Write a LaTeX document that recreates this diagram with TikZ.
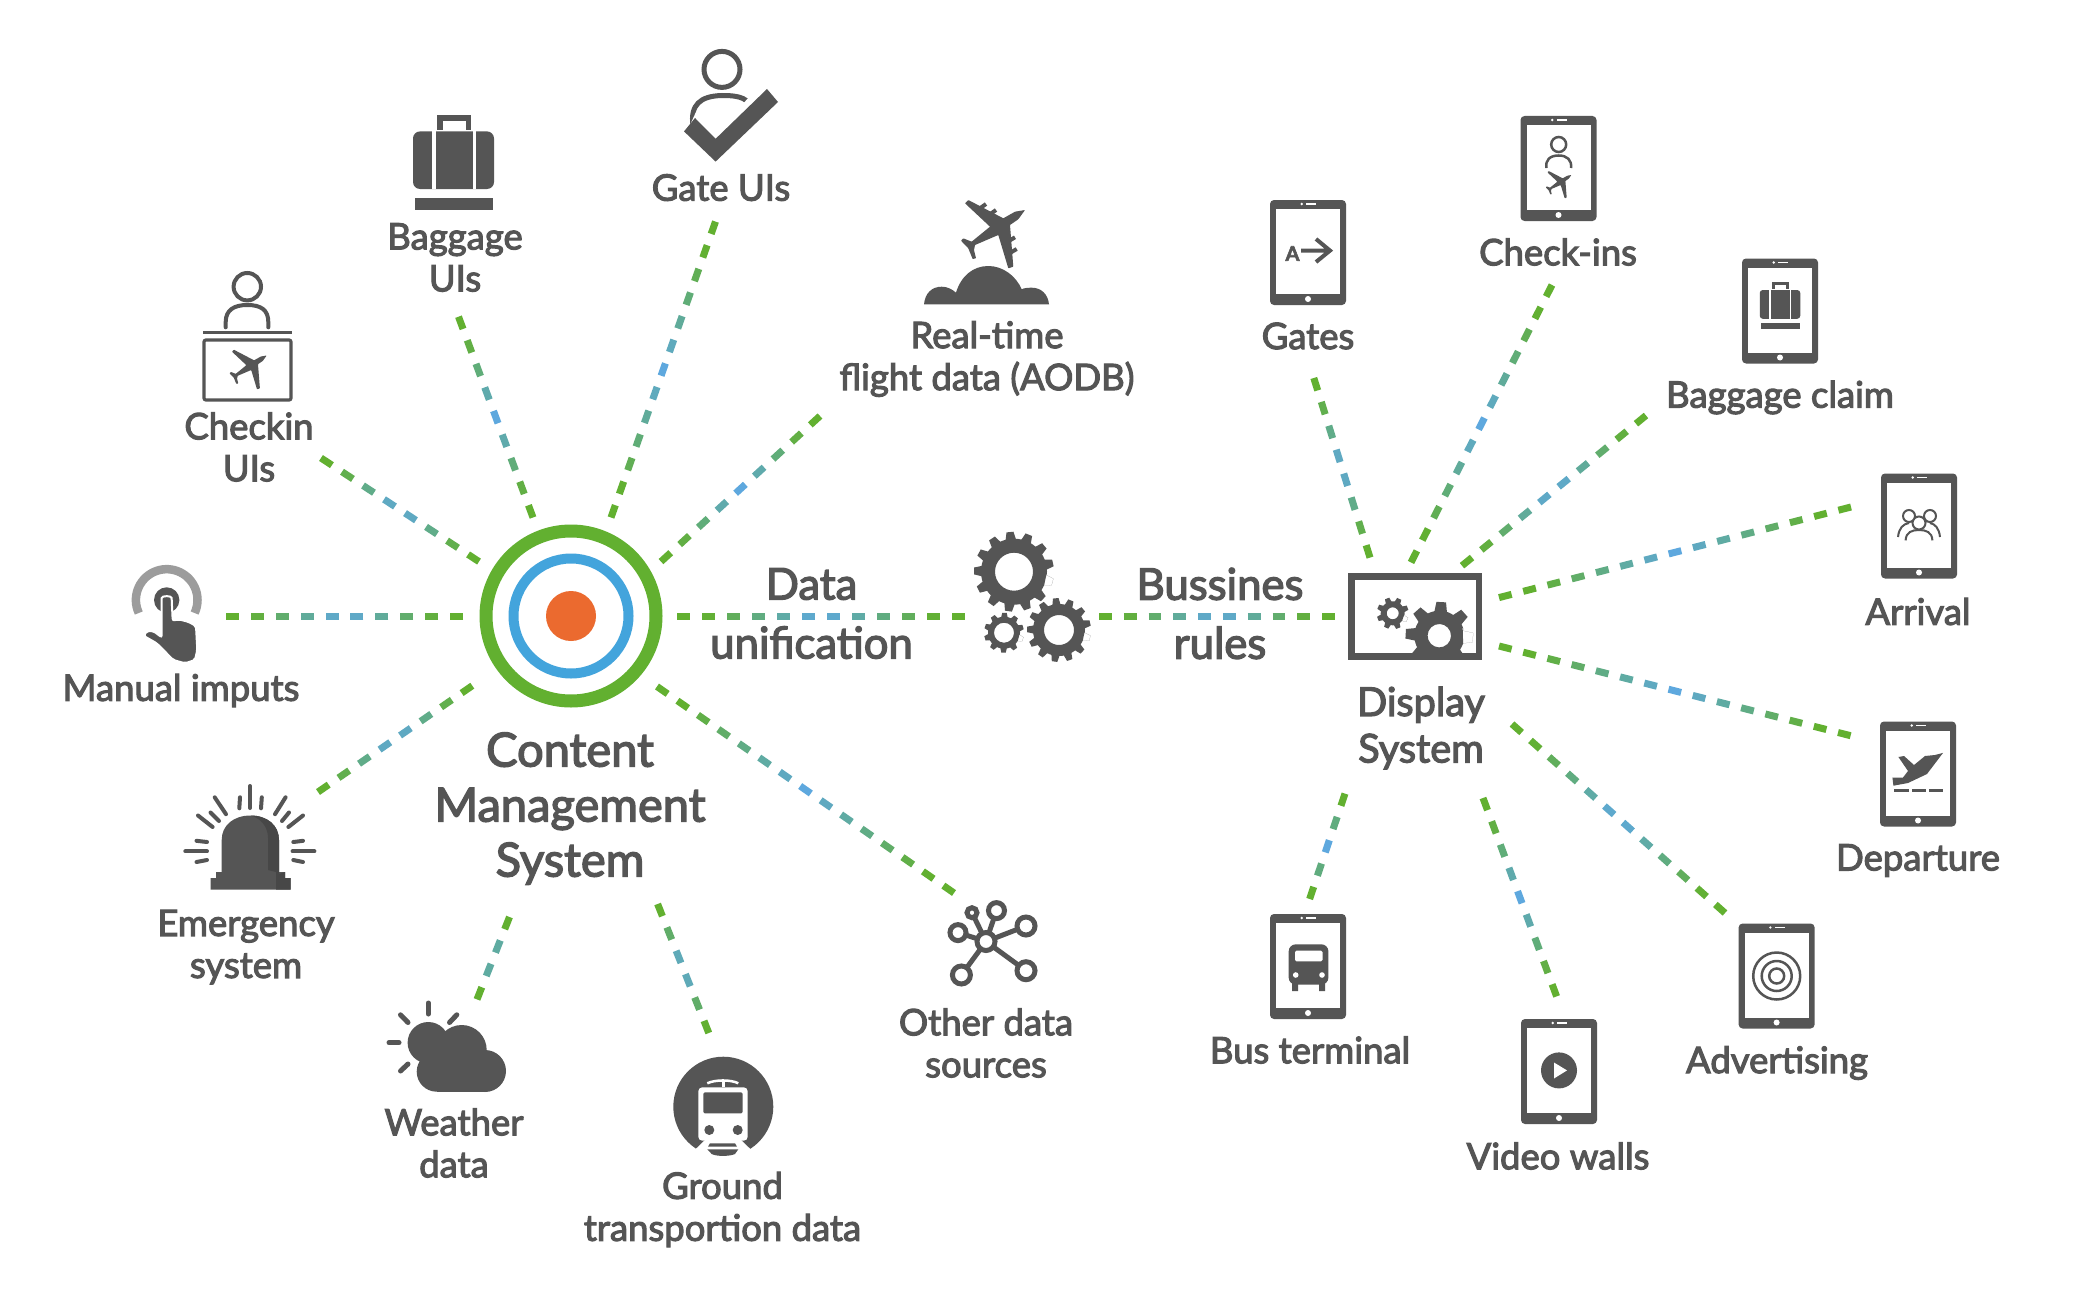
\documentclass[tikz,border=0pt]{standalone}
\usepackage{fontspec}
\setmainfont{Lato}[FakeBold=3]
\usetikzlibrary{calc}
\definecolor{ink}{HTML}{555555}
\definecolor{lkgreen}{HTML}{62B030}
\definecolor{lkblue}{HTML}{5EA8DE}
\definecolor{ringblue}{HTML}{43A4DC}
\definecolor{core}{HTML}{EB6A2F}
\definecolor{touch}{HTML}{9C9C9C}
\tikzset{
 lbl/.style={text=ink,align=center,inner sep=0pt,font=\fontsize{36.5}{42}\selectfont},
 lblmid/.style={lbl,font=\fontsize{39.7}{46.5}\selectfont},
 lblbig/.style={lbl,font=\fontsize{47}{55}\selectfont},
 lblwide/.style={lbl,font=\fontsize{43.7}{59}\selectfont},
 ln/.style={draw=ink,line width=#1,fill=none},
 ln/.default=2.5pt,
 ico/.style={fill=ink,draw=none},
 wht/.style={fill=white,draw=none},
 tabletbody/.style={fill=ink,draw=none,rounded corners=4pt,minimum width=76pt,minimum height=105pt,inner sep=0pt,outer sep=0pt},
 ray/.style={draw=ink,line width=4pt,line cap=round},
 dashseg/.style={line width=7pt,line cap=butt},
}
\newcommand\gradlink[2]{%
 \pgfpointdiff{\pgfpointanchor{#1}{center}}{\pgfpointanchor{#2}{center}}%
 \pgfgetlastxy\dxv\dyv
 \pgfmathsetmacro\lenL{veclen(\dxv,\dyv)}%
 \pgfmathtruncatemacro\nnd{round((\lenL+12)/25)}%
 \pgfmathsetmacro\perd{\lenL/(\nnd-12/25)}%
 \foreach \i in {1,...,\nnd}{%
  \pgfmathsetmacro\ta{(\i-1)*\perd/\lenL}%
  \pgfmathsetmacro\tb{\ta+0.52*\perd/\lenL}%
  \pgfmathtruncatemacro\mixv{min(100,abs((\ta+\tb)-1)*125)}%
  \draw[dashseg,draw=lkgreen!\mixv!lkblue] ($(#1)!\ta!(#2)$) -- ($(#1)!\tb!(#2)$);
 }}
\newcommand\tablet[3]{%
 \node[tabletbody] (#1) at (#2,#3) {};
 \begin{scope}[shift={(#2,#3)}]
  \fill[wht] (-32,-43.5) rectangle (32,41.5);
  \fill[wht] (-6.3,-48.5) circle (1.3pt);
  \fill[wht] (-2,-49.3) rectangle (8,-47.7);
  \fill[wht] (0,46.5) circle (3pt);
 \end{scope}}
\newcommand\gearshape[7]{%
 \fill[ico,even odd rule,shift={(#1,#2)},rotate=#7] (0:#4)
  \foreach \k in {0,...,#6}{ -- ({\k*360/#6}:#4) -- ({(\k+.22)*360/#6}:#4) -- ({(\k+.36)*360/#6}:#3) -- ({(\k+.72)*360/#6}:#3) -- ({(\k+.86)*360/#6}:#4)}
  -- cycle (0,0) circle (#5pt);}
\newcommand\planeshape[3]{%
 \fill[ico,shift={(#1,#2)},scale=#3,rounded corners=.6pt] (31.7,-25) -- (25,-15.7) -- (16.7,-10) -- (20,31.7) -- (15,33.3) -- (5,0) -- (-18.3,10) -- (-19.3,15) -- (-17.3,23.3) -- (-20.7,24) -- (-25,13.3) -- (-32.3,5.7) -- (-30,3.3) -- (-21.7,6.7) -- (-3.3,-8.3) -- (-28.3,-31.7) -- (-25,-35) -- (10,-16.7) -- (21.7,-23.3) -- cycle;}
\newcommand\suitcase[4]{%
 \begin{scope}[shift={(#1,#2)},scale=#3]
 \fill[ico] (-16.5,-47.5) rectangle (17.5,-33);
 \fill[wht] (-11,-42) rectangle (12,-33);
 \fill[ico,rounded corners=#4] (-40.5,-31.6) rectangle (40.5,26);
 \fill[wht] (-21.5,-31.6) rectangle (-18,26);
 \fill[wht] (19,-31.6) rectangle (22.5,26);
 \fill[ico] (-39,34.5) rectangle (39.5,47);
 \end{scope}}
\begin{document}
\begin{tikzpicture}[x=1pt,y=-1pt]
\useasboundingbox (0,0) rectangle (2086,1303);
\fill[white] (0,0) rectangle (2086,1303);
% hub
\node[circle,draw=lkgreen,line width=13pt,minimum size=170pt,inner sep=0pt] (cms) at (571,616) {};
\node[circle,draw=ringblue,line width=10pt,minimum size=115pt,inner sep=0pt] (cmsring) at (571,616) {};
\node[circle,fill=core,minimum size=50pt,inner sep=0pt] (cmscore) at (571,616) {};
% display box
\node[draw=ink,line width=6.7pt,minimum width=127.3pt,minimum height=80pt,inner sep=0pt] (display) at (1415.3,616.65) {};
\gearshape{1392.7}{613.3}{16}{12}{6}{8}{0}
\begin{scope}
\clip (1400,590) rectangle (1480,652.3);
\gearshape{1439.3}{635.7}{34}{25}{11.7}{8}{21}
\end{scope}
% gears
\node[inner sep=0pt,minimum size=100pt] (gears) at (1035,600) {};
\gearshape{1014}{571.7}{40}{33}{19}{13}{0}
\gearshape{1004}{632.7}{20}{16}{10}{10}{0}
\gearshape{1059}{630}{32}{26}{15}{13}{0}
% connector ends
\coordinate (gateb) at (715.5,221.6);
\coordinate (bagb) at (458.5,316.7);
\coordinate (chkb) at (321,458);
\coordinate (rtb) at (820,416);
\coordinate (manb) at (226,616);
\coordinate (emb) at (318,792);
\coordinate (othb) at (954,893);
\coordinate (web) at (477,999.4);
\coordinate (grb) at (708.8,1033);
\coordinate (dab) at (965,616);
\coordinate (rub) at (1335,616);
\coordinate (dgb) at (1313.8,378);
\coordinate (dcb) at (1552,285);
\coordinate (dbb) at (1646,415.5);
\coordinate (drb) at (1851,507);
\coordinate (dpb) at (1850.6,735.7);
\coordinate (adb) at (1725,913);
\coordinate (vwb) at (1556.6,996.4);
\coordinate (bub) at (1309.6,899);
\coordinate (gatea) at (611,517.5);
\coordinate (baga) at (533,517.5);
\coordinate (chka) at (479,561.6);
\coordinate (rta) at (661,561.6);
\coordinate (mana) at (463,616);
\coordinate (ema) at (472.3,685.7);
\coordinate (otha) at (657,686.5);
\coordinate (wea) at (509.5,917);
\coordinate (gra) at (657.6,904);
\coordinate (daa) at (677,616);
\coordinate (rua) at (1099,616);
\coordinate (dga) at (1370,557.6);
\coordinate (dca) at (1411,562.4);
\coordinate (dba) at (1462,565.7);
\coordinate (dra) at (1499,597.6);
\coordinate (dpa) at (1499,646);
\coordinate (ada) at (1512,724);
\coordinate (vwa) at (1483,798);
\coordinate (bua) at (1345,793.6);
\gradlink{gatea}{gateb}
\gradlink{baga}{bagb}
\gradlink{chka}{chkb}
\gradlink{rta}{rtb}
\gradlink{mana}{manb}
\gradlink{ema}{emb}
\gradlink{otha}{othb}
\gradlink{wea}{web}
\gradlink{gra}{grb}
\gradlink{daa}{dab}
\gradlink{rua}{rub}
\gradlink{dga}{dgb}
\gradlink{dca}{dcb}
\gradlink{dba}{dbb}
\gradlink{dra}{drb}
\gradlink{dpa}{dpb}
\gradlink{ada}{adb}
\gradlink{vwa}{vwb}
\gradlink{bua}{bub}
% Gate UIs icon
\draw[ln=5pt] (722,69.4) circle (18pt);
\draw[ln=5pt] (693,126) .. controls (690,105) and (700,96) .. (722,95.5) .. controls (740,95.5) and (750,98) .. (752,112);
\fill[wht] (690,125) -- (715.6,152) -- (770,90) -- (760,85) -- (715.6,134) -- (696,112) -- cycle;
\fill[ico] (684,131.4) -- (715.6,161.6) -- (778,102) -- (767,89) -- (715.6,138.8) -- (695,118) -- cycle;
% Baggage icon
\suitcase{453.5}{163}{1}{7pt}
% Checkin icon
\draw[ln=4pt] (247.3,286.7) circle (13.7pt);
\draw[ln=4pt,line cap=round] (225.7,327.3) -- (225.7,322) .. controls (225.7,310) and (234,305) .. (247.4,305) .. controls (261,305) and (268.3,310) .. (268.3,322) -- (268.3,327.3);
\draw[ln=2.8pt] (203.3,332.3) -- (291.7,332.3);
\draw[ln=3.2pt,rounded corners=2pt] (204,340) rectangle (291,400);
\planeshape{248.3}{370}{.58}
% Real-time icon
\planeshape{993.3}{235}{1}
\foreach \xa/\ya/\xb/\yb in {986/204/980/208.3,996/210/990/214.3,1015/237.3/1009.3/240.7,1016.7/249/1011/252.3}{
 \draw[ink,line width=4pt] (\xa,\ya) -- (\xb,\yb);}
\fill[ico] (924,304.3) .. controls (925,293) and (932,286.7) .. (941.7,286.7) .. controls (947,286.7) and (952,289) .. (956,292.7) .. controls (961,276) and (973,266) .. (988.3,266) .. controls (1003,266) and (1016,276) .. (1021.7,289.3) .. controls (1024,288) and (1028,287.7) .. (1031.7,287.7) .. controls (1041,287.7) and (1048,294) .. (1049,304.3) -- cycle;
% Manual imputs icon
\draw[draw=touch,line width=8.5pt] (138.8,613) arc[start angle=205,end angle=-25,radius=30.8pt];
\fill[ico] (166.7,600) circle (12.7pt);
\fill[ico,draw=white,line width=2pt,rounded corners=2pt] (161.7,600) .. controls (161.7,595.5) and (171.7,595.5) .. (171.7,600) -- (172.7,620.7) -- (178.3,619.3) -- (188.3,621.7) -- (196,626) -- (197.3,650) -- (195,660) -- (185,663.3) -- (173.3,660) -- (156.7,643.3) -- (144,636) -- (146.7,631) -- (153.3,631) -- (161.7,637.3) -- cycle;
% Emergency icon
\fill[ico] (221.7,874) -- (221.7,840) .. controls (221.7,825) and (234,815.5) .. (250.5,815.5) .. controls (267,815.5) and (279,825) .. (279,840) -- (279,874) -- cycle;
\fill[ico] (216,872) -- (285,872) -- (285,878) -- (290.5,878) -- (290.5,889.5) -- (210.5,889.5) -- (210.5,878) -- (216,878) -- cycle;
\fill[black!72] (250.5,815.5) .. controls (267,815.5) and (279,825) .. (279,840) -- (279,874) -- (285,872) -- (285,878) -- (290.5,878) -- (290.5,889.5) -- (276,889.5) -- (276,872) -- (268,870) -- (268,838) .. controls (268,826) and (260,818) .. (250.5,815.5) -- cycle;
\foreach \xa/\ya/\xb/\yb in {250/786/250/808,214.7/797.3/226/814.2,240/797.3/239.3/808.3,261.8/797.3/261/808.3,285.6/797.3/275/814.2,198/815.5/212.6/827,210.5/812.5/219/821,303/815.5/288.4/827,289/812.5/282/821,185.3/851.4/207/851.4,292.6/851.4/314.4/851.4,196.5/840.8/207/842,196.5/862/207/860,293.3/842/303/840.8,293.3/860/303/862}{
 \draw[ray] (\xa,\ya) -- (\xb,\yb);}
% Weather icon
\foreach \xa/\ya/\xb/\yb in {428.3/1003/428.3/1014,400.5/1014.8/408/1022.5,456.8/1014.8/449.5/1022.5,389/1042.7/399/1042.7,400.5/1071/408/1064}{
 \draw[ray,line width=5pt] (\xa,\ya) -- (\xb,\yb);}
\fill[ico] (428.3,1042.7) circle (20.7pt);
\fill[ico] (461.7,1050) circle (25pt);
\fill[ico] (485,1071) circle (21pt);
\fill[ico] (436.7,1071.7) circle (20pt);
\fill[ico] (436.7,1050) rectangle (485,1092);
% Ground icon
\node[circle,fill=ink,minimum size=100pt,inner sep=0pt] (trainbg) at (723.3,1106.7) {};
\fill[wht] (705,1140) -- (741,1140) -- (750,1148.7) -- (750,1160) -- (696,1160) -- (696,1148.7) -- cycle;
\fill[wht,rounded corners=4pt] (698.3,1087.3) rectangle (747.7,1140.7);
\fill[ico,rounded corners=1.5pt] (703.3,1092.3) rectangle (742.7,1113.3);
\fill[ico] (709.3,1130) circle (5pt);
\fill[ico] (737.7,1130) circle (5pt);
\draw[white,line width=2.5pt] (707.3,1083.3) .. controls (715,1079.5) and (731,1079.5) .. (738.3,1083.3);
\draw[white,line width=3pt] (723,1081) -- (723,1087.3);
\fill[ico] (710,1143.3) -- (735,1143.3) -- (737,1146.7) -- (708,1146.7) -- cycle;
\fill[ico] (707.3,1149.3) -- (738.3,1149.3) -- (735,1154) .. controls (730,1156.5) and (716,1156.5) .. (711.7,1154) -- cycle;
% Other data icon
\foreach \px/\py/\rr in {996.5/910.6/8,1026/926/9,1026/970.7/9,961.4/975/9,958/932.6/8,972/912.7/5}{
 \draw[ink,line width=5pt] (986,941.5) -- (\px,\py);
 \draw[ln=5pt,fill=white] (\px,\py) circle (\rr pt);}
\draw[ln=5pt,fill=white] (986,941.5) circle (9pt);
% tablets
\tablet{tgates}{1308}{252.5}
\draw[ink,line width=4pt] (1301,250.6) -- (1330,250.6) (1316,239) -- (1330,250.6) -- (1316,262);
\node[text=ink,inner sep=0pt,font=\fontsize{20}{20}\selectfont\bfseries] (tgatesA) at (1292.5,253.5) {A};
\tablet{tchecks}{1558.5}{168.5}
\draw[ln=2.5pt] (1558.7,144.5) circle (7.5pt);
\draw[ln=2.5pt] (1546.5,168) .. controls (1545,160) and (1550,155.5) .. (1558.7,155.5) .. controls (1567,155.5) and (1572,160) .. (1571,168);
\planeshape{1558.7}{185}{.4}
\tablet{tbag}{1780}{311}
\suitcase{1780}{305.8}{.5}{3pt}
\tablet{tarr}{1919}{526}
\draw[ln=2pt] (1919,523) circle (6.5pt) (1909,516) circle (6pt) (1930,516) circle (6pt);
\draw[ln=2pt] (1905.6,540.4) .. controls (1906,532) and (1912,530) .. (1919,530) .. controls (1926,530) and (1932,532) .. (1932.4,540.4);
\draw[ln=2pt] (1898,537) .. controls (1899,528) and (1903,524) .. (1909,523);
\draw[ln=2pt] (1940,537) .. controls (1939,528) and (1935,524) .. (1930,523);
\tablet{tdep}{1918}{774}
\fill[ico] (1943,752.9) -- (1927,774) -- (1908,783) -- (1893.4,785.7) -- (1892.4,777.5) -- (1903,777.5) -- (1908,771) -- (1898.4,757) -- (1904,756) -- (1914,765) -- (1925,756) -- (1935,755) -- cycle;
\draw[ink,line width=2.5pt] (1894,790.7) -- (1908.5,790.7) (1912,790.7) -- (1926,790.7) (1929,790.7) -- (1943,790.7);
\tablet{tadv}{1776.6}{976}
\draw[ln=2.5pt] (1776.7,976) circle (23.5pt) (1776.7,976) circle (15pt) (1776.7,976) circle (7.5pt);
\tablet{tvid}{1559}{1071.5}
\fill[ico] (1559,1070.4) circle (18pt);
\fill[wht] (1554,1062.5) -- (1567,1070.4) -- (1554,1078.5) -- cycle;
\tablet{tbus}{1308}{966.5}
\fill[ico,rounded corners=7pt] (1288.7,944.3) rectangle (1328.4,984.6);
\fill[ico] (1292,983) rectangle (1298,991) (1319,983) rectangle (1325,991);
\fill[wht,rounded corners=1.5pt] (1295,950.7) rectangle (1322.5,961.4);
\fill[wht] (1295.7,975) circle (2.8pt) (1322,975) circle (2.8pt);
% labels
\node[lbl] (lgate) at (721,187.6) {Gate UIs};
\node[lbl] (lbag) at (455,257.5) {Baggage\\UIs};
\node[lbl] (lchk) at (249,447) {Checkin\\UIs};
\node[lbl] (lrt) at (987,359) {Real-time\\flight data (AODB)};
\node[lbl] (lman) at (181,690.5) {Manual imputs};
\node[lbl] (lem) at (246,947) {Emergency\\system};
\node[lbl] (lwe) at (454,1143) {Weather\\data};
\node[lbl] (lgr) at (722.5,1209.5) {Ground\\transportion data};
\node[lbl] (loth) at (986,1043) {Other data\\sources};
\node[lblbig] (lcms) at (570,808.5) {Content\\Management\\System};
\node[lblwide] (lda) at (811.5,613.5) {Data\\unification};
\node[lblwide] (lru) at (1220,613.5) {Bussines\\rules};
\node[lblmid] (ldi) at (1421,728) {Display\\System};
\node[lbl] (lg) at (1308,336) {Gates};
\node[lbl] (lc) at (1558,252) {Check-ins};
\node[lbl] (lb) at (1780,397.5) {Baggage claim};
\node[lbl] (la) at (1918,611.5) {Arrival};
\node[lbl] (ld) at (1918,860.5) {Departure};
\node[lbl] (lad) at (1777,1063) {Advertising};
\node[lbl] (lv) at (1558,1156) {Video walls};
\node[lbl] (lbu) at (1310,1050) {Bus terminal};
\end{tikzpicture}
\end{document}
